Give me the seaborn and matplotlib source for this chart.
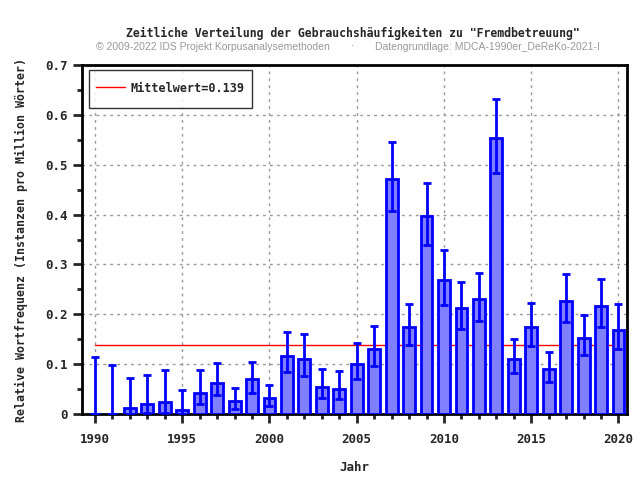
import numpy as np
import pandas as pd
import matplotlib
matplotlib.use("Agg")
import matplotlib.pyplot as plt
import seaborn as sns
from matplotlib.ticker import MultipleLocator
from matplotlib.legend_handler import HandlerLine2D

years = list(range(1990, 2021))
values = [0.0, 0.0, 0.012, 0.020, 0.024, 0.008, 0.043, 0.063, 0.026, 0.071,
          0.032, 0.117, 0.111, 0.055, 0.051, 0.101, 0.131, 0.472, 0.175, 0.398,
          0.269, 0.213, 0.231, 0.554, 0.111, 0.175, 0.091, 0.227, 0.153, 0.217, 0.169]
err_low = [0.0, 0.0, 0.0, 0.003, 0.003, 0.0, 0.020, 0.038, 0.010, 0.043,
           0.016, 0.085, 0.077, 0.033, 0.031, 0.070, 0.097, 0.408, 0.138, 0.339,
           0.218, 0.171, 0.187, 0.483, 0.082, 0.136, 0.065, 0.185, 0.118, 0.175, 0.130]
err_high = [0.115, 0.099, 0.073, 0.079, 0.089, 0.049, 0.088, 0.102, 0.052, 0.104,
            0.058, 0.164, 0.160, 0.091, 0.087, 0.142, 0.177, 0.546, 0.221, 0.464,
            0.329, 0.265, 0.283, 0.632, 0.151, 0.223, 0.125, 0.281, 0.199, 0.271, 0.221]
mean_value = 0.139

df = pd.DataFrame({"Jahr": years, "Wert": values})

sns.set_style("white")
mono = ["DejaVu Sans Mono"]


class ShiftedLineHandler(HandlerLine2D):
    def create_artists(self, legend, orig_handle, xdescent, ydescent, width, height,
                       fontsize, trans):
        return super().create_artists(legend, orig_handle, xdescent, ydescent + 2.3,
                                      width, height, fontsize, trans)


fig = plt.figure(figsize=(6.4, 4.8), dpi=100)
ax = fig.add_axes([0.128, 0.1375, 0.852, 0.727])

sns.barplot(data=df, x="Jahr", y="Wert", native_scale=True, width=0.68,
            color="#8080ff", saturation=1, edgecolor="#0000ff", linewidth=2,
            errorbar=None, ax=ax, zorder=3)

v = np.array(values)
lo = np.array(err_low)
hi = np.array(err_high)
ax.errorbar(years, v, yerr=[v - lo, hi - v], fmt="none", ecolor="#0000ff",
            elinewidth=2, capsize=3, capthick=2, zorder=4)

mean_line, = ax.plot([1990, 2020], [mean_value, mean_value], color="#ff0000", lw=1,
                     label="Mittelwert=0.139", zorder=2)

ax.set_xlim(1989.25, 2020.5)
ax.set_ylim(0, 0.7)
ax.xaxis.set_major_locator(MultipleLocator(5))
ax.xaxis.set_minor_locator(MultipleLocator(1))
ax.yaxis.set_major_locator(MultipleLocator(0.1))
ax.yaxis.set_minor_locator(MultipleLocator(0.05))
ax.yaxis.set_major_formatter(matplotlib.ticker.FuncFormatter(lambda y, p: "0" if y == 0 else f"{y:.1f}"))
ax.grid(True, which="major", color="#999999", linestyle=(0, (2, 3)), lw=1, zorder=0)
ax.set_axisbelow(True)
for s in ax.spines.values():
    s.set_linewidth(2)
    s.set_color("black")
ax.tick_params(which="major", direction="out", length=6.5, width=2, labelsize=9,
               bottom=True, left=True)
ax.tick_params(axis="x", which="major", pad=7)
ax.tick_params(axis="y", which="major", pad=4)
ax.tick_params(which="minor", direction="out", length=3.3, width=2, bottom=True, left=True)
for lab in ax.get_xticklabels() + ax.get_yticklabels():
    lab.set_fontfamily(mono)
    lab.set_fontweight("bold")

ax.set_xlabel("Jahr", fontfamily=mono, fontweight="bold", fontsize=9, labelpad=11)
ax.set_ylabel("Relative Wortfrequenz (Instanzen pro Million Wörter)", fontfamily=mono,
              fontweight="bold", fontsize=8.4, labelpad=12)

leg = ax.legend(handles=[mean_line], loc="upper left", frameon=True, fancybox=False,
                edgecolor="black",
                prop={"family": mono, "weight": "bold", "size": 8.5},
                handlelength=2.4, handletextpad=0.5, borderpad=0.65, handleheight=2.6,
                bbox_to_anchor=(0.004, 1.0), borderaxespad=0.4,
                handler_map={mean_line: ShiftedLineHandler()})
leg.get_frame().set_linewidth(1)
leg.set_zorder(10)

fig.text(0.552, 0.931, 'Zeitliche Verteilung der Gebrauchshäufigkeiten zu "Fremdbetreuung"',
         ha="center", va="center", fontfamily=mono, fontweight="bold", fontsize=8.3)
fig.text(0.333, 0.903, "© 2009-2022 IDS Projekt Korpusanalysemethoden", ha="center", va="center",
         color="#999999", fontsize=7.5, fontfamily="Liberation Sans")
fig.text(0.551, 0.903, "·", ha="center", va="center", color="#999999", fontsize=7.5)
fig.text(0.762, 0.903, "Datengrundlage: MDCA-1990er_DeReKo-2021-I", ha="center", va="center",
         color="#999999", fontsize=7.5, fontfamily="Liberation Sans")

fig.savefig("out.png", dpi=100)
